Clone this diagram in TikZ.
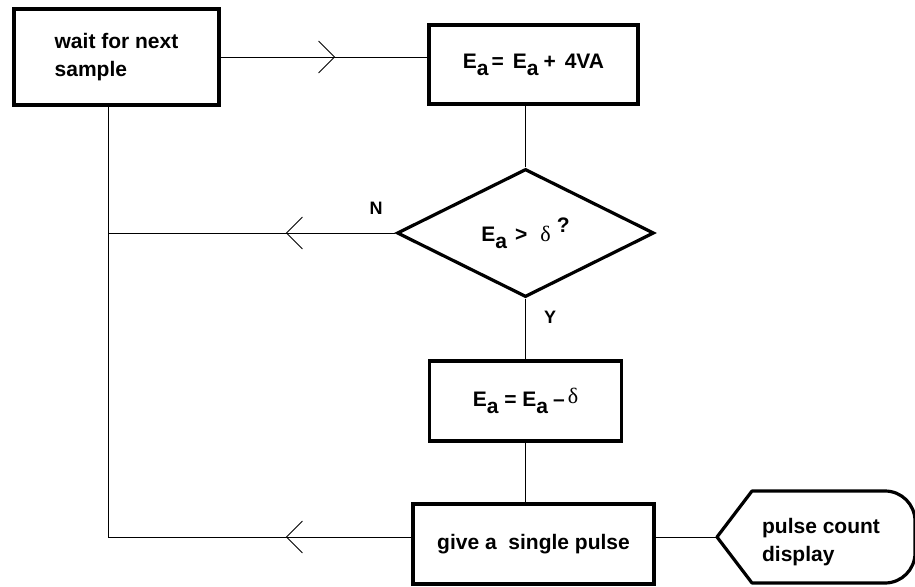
\documentclass[tikz,border=0pt]{standalone}
\usepackage{fontspec}
\setmainfont{Liberation Sans}
\newfontfamily\grk{Liberation Serif}
\usetikzlibrary{shapes.geometric,decorations.markings,positioning}
\tikzset{>=latex}
\newcommand{\Ea}{E\raisebox{-0.33em}{a}}
\tikzset{
  blk/.style={draw, rectangle, line width=3.2pt, inner sep=0pt, align=left, font=\fontsize{21}{28}\selectfont\bfseries},
  wire/.style={line width=0.9pt},
  chev/.style={postaction=decorate, decoration={markings, mark=at position #1 with {\draw[wire] (-16pt,16pt) -- (0pt,0pt) -- (-16pt,-16pt);}}},
  lbl/.style={font=\fontsize{18}{18}\selectfont\bfseries}
}

\begin{document}
\begin{tikzpicture}[x=1pt,y=-1pt]
      \useasboundingbox (0,0) rectangle (915,586);
      \node[blk, minimum width=205pt, minimum height=96pt] (wait) at (116.5,57) {wait for next\\sample};
      \node[blk, minimum width=209pt, minimum height=79pt] (add) at (533.5,64.5) {\Ea\hspace{3pt}=\hspace{9pt}\Ea\hspace{5pt}+\hspace{9pt}4VA};
      \node[draw, diamond, line width=3.2pt, inner sep=0pt, minimum width=257pt, minimum height=128pt, font=\fontsize{21}{28}\selectfont\bfseries] (test) at (525.5,233) {\Ea\hspace{8pt}>\hspace{13pt}{\grk\mdseries\fontsize{22}{22}\selectfont δ}\hspace{6pt}\raisebox{9pt}{?}};
      \node[blk, minimum width=192pt, minimum height=80pt, below of=test, node distance=168pt] (sub) {\Ea{} = \Ea\hspace{5pt}–\hspace{3pt}\raisebox{3pt}{\grk\mdseries\fontsize{22}{22}\selectfont δ}};
      \node[blk, minimum width=241pt, minimum height=80pt] (pulse) at (533.5,544) {give a \ single pulse};
      \node[align=left, font=\fontsize{21}{28}\selectfont\bfseries] (disp) at (821,542) {pulse count\\display};
      \coordinate (dtip) at (717,537);
      \coordinate (jn) at (108,537);
      % display symbol
      \draw[line width=3.2pt, line join=round] (dtip) -- (752,491) -- (885,491) arc[start angle=-90, end angle=0, radius=30] -- (915,553) arc[start angle=0, end angle=90, radius=30] -- (752,583) -- cycle;
      \node[lbl] (nlbl) at (376,208) {N};
      \node[lbl] (ylbl) at (550,317) {Y};
      \draw[wire, chev=114pt] (wait.east) -- (wait.east -| add.west);
      \draw[wire] (add.south -| test.north) -- (test.north);
      \draw[wire] (test.south) -- (sub.north);
      \draw[wire] (sub.south) -- (sub.south |- pulse.north);
      \draw[wire, chev=109pt] (test.west) -- (test.west -| jn);
      \draw[wire] (wait.south -| jn) -- (jn);
      \draw[wire, chev=125pt] (pulse.west |- jn) -- (jn);
      \draw[wire] (pulse.east |- dtip) -- (dtip);
    \end{tikzpicture}
\end{document}
